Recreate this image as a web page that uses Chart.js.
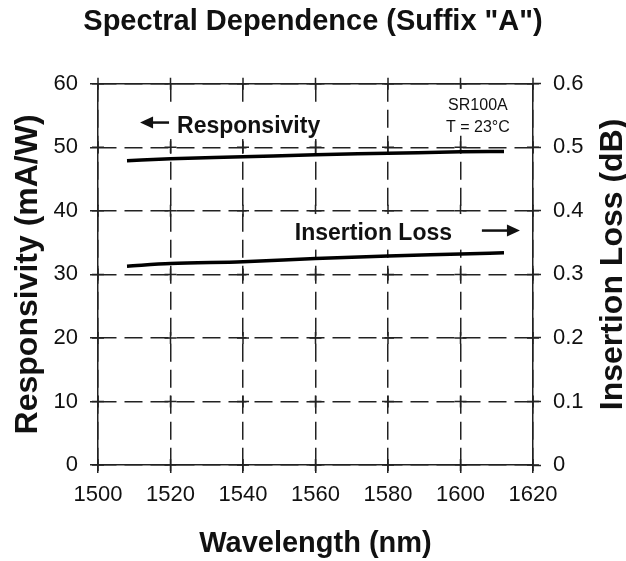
<!DOCTYPE html>
<html>
<head>
<meta charset="utf-8">
<script src="https://cdn.jsdelivr.net/npm/chart.js@4.4.1/dist/chart.umd.min.js"></script>
<style>
  body { margin: 0; background: #fff; }
  #wrap { width: 626px; height: 561px; }
</style>
</head>
<body>
<div id="wrap"><canvas id="specChart" width="626" height="561"></canvas></div>
<script>
// values
const wavelength = [1508, 1520, 1540, 1560, 1580, 1600, 1612];
const responsivity = [47.9, 48.2, 48.5, 48.85, 49.05, 49.3, 49.35];
const insertionLoss = [0.313, 0.317, 0.320, 0.325, 0.329, 0.332, 0.334];

const titleText = 'Spectral Dependence (Suffix "A")';
const xTitle = "Wavelength (nm)";
const yLeftTitle = "Responsivity (mA/W)";
const yRightTitle = "Insertion Loss (dB)";
const noteLines = ["SR100A", "T = 23°C"];

const FONT = "'Liberation Sans', Arial, sans-serif";
const INK = "#111";

function arrow(ctx, x1, x2, y) {
  // line from x1 to x2, head at x2
  const dir = x2 > x1 ? 1 : -1;
  ctx.beginPath();
  ctx.moveTo(x1, y);
  ctx.lineTo(x2 - dir * 10, y);
  ctx.lineWidth = 2.5;
  ctx.strokeStyle = INK;
  ctx.stroke();
  ctx.beginPath();
  ctx.moveTo(x2, y);
  ctx.lineTo(x2 - dir * 13, y - 6);
  ctx.lineTo(x2 - dir * 13, y + 6);
  ctx.closePath();
  ctx.fillStyle = INK;
  ctx.fill();
}

// white patch behind a label, corners in data units
function clearBox(ctx, X, Y, x0, x1, y0, y1) {
  ctx.fillStyle = "#fff";
  ctx.fillRect(X(x0), Y(y0), X(x1) - X(x0), Y(y1) - Y(y0));
}

const extras = {
  id: "extras",
  beforeDatasetsDraw(chart) {
    const { ctx, chartArea: a, scales } = chart;
    ctx.save();
    // top border
    ctx.strokeStyle = "#222";
    ctx.lineWidth = 1.5;
    ctx.beginPath();
    ctx.moveTo(a.left, a.top);
    ctx.lineTo(a.right, a.top);
    ctx.stroke();
    // little solid crosses where the grid lines meet
    scales.x.ticks.forEach(tx => {
      const px = scales.x.getPixelForValue(tx.value);
      scales.y.ticks.forEach(ty => {
        const py = scales.y.getPixelForValue(ty.value);
        ctx.beginPath();
        ctx.moveTo(px - 6, py); ctx.lineTo(px + 6, py);
        ctx.moveTo(px, py - 6); ctx.lineTo(px, py + 6);
        ctx.stroke();
      });
    });
    ctx.restore();
  },
  afterDraw(chart) {
    const { ctx, scales, chartArea: a } = chart;
    const X = v => scales.x.getPixelForValue(v);
    const Y = v => scales.y.getPixelForValue(v);
    ctx.save();

    clearBox(ctx, X, Y, 1511, 1561.8, 56.2, 51.3);
    clearBox(ctx, X, Y, 1553, 1617.8, 39.5, 33.9);
    clearBox(ctx, X, Y, 1594.3, 1615, 59.2, 52.0);

    ctx.fillStyle = INK;
    ctx.textBaseline = "alphabetic";
    ctx.font = "bold 23px " + FONT;
    ctx.textAlign = "left";
    ctx.fillText("Responsivity", X(1521.8), Y(52.3));
    arrow(ctx, X(1519.6), X(1511.6), Y(53.9));

    ctx.fillText("Insertion Loss", X(1554.3), Y(35.4));
    arrow(ctx, X(1605.9), X(1616.4), Y(36.9));

    ctx.font = "16px " + FONT;
    ctx.textAlign = "center";
    ctx.fillText(noteLines[0], X(1604.8), Y(55.9));
    ctx.fillText(noteLines[1], X(1604.8), Y(52.4));

    // right axis title reads upward, like the left one
    ctx.font = "bold 32px " + FONT;
    ctx.translate(622, (a.top + a.bottom) / 2 - 10);
    ctx.rotate(-Math.PI / 2);
    ctx.fillText(yRightTitle, 0, 0);
    ctx.restore();
  }
};

const tickFont = { family: FONT, size: 22 };
const axisTitleFont = { family: FONT, size: 29, weight: "bold" };
const sideTitleFont = { family: FONT, size: 32, weight: "bold", lineHeight: 1 };
const gridDash = [18, 8];

const ctx = document.querySelector("#specChart").getContext("2d");
new Chart(ctx, {
  type: "line",
  data: {
    datasets: [
      {
        label: "Responsivity",
        data: wavelength.map((w, i) => ({ x: w, y: responsivity[i] })),
        borderColor: "#000",
        borderWidth: 3.5,
        pointRadius: 0,
        cubicInterpolationMode: "monotone",
        yAxisID: "y"
      },
      {
        label: "Insertion Loss",
        data: wavelength.map((w, i) => ({ x: w, y: insertionLoss[i] })),
        borderColor: "#000",
        borderWidth: 3.5,
        pointRadius: 0,
        cubicInterpolationMode: "monotone",
        yAxisID: "y1"
      }
    ]
  },
  options: {
    responsive: false,
    animation: false,
    layout: { padding: 0 },
    plugins: {
      legend: { display: false },
      tooltip: { enabled: false },
      title: {
        display: true,
        text: titleText,
        color: INK,
        font: { family: FONT, size: 29, weight: "bold" },
        padding: { top: 5, bottom: 44 }
      }
    },
    scales: {
      x: {
        type: "linear",
        min: 1500,
        max: 1620,
        afterFit: s => { s.height = 96; },
        ticks: { stepSize: 20, color: INK, font: tickFont, padding: 9, maxRotation: 0, callback: v => String(v) },
        grid: { color: "#222", lineWidth: 1.5, tickLength: 8, tickColor: "#222", tickWidth: 1.5 },
        border: { display: true, color: "#222", width: 1.5, dash: gridDash },
        title: { display: true, text: xTitle, color: INK, font: axisTitleFont, padding: { top: 0, bottom: 0 } }
      },
      y: {
        position: "left",
        min: 0,
        max: 60,
        afterFit: s => { s.width = 98; },
        ticks: { stepSize: 10, color: INK, font: tickFont, padding: 12 },
        grid: { color: "#222", lineWidth: 1.5, tickLength: 8, tickColor: "#222", tickWidth: 1.5 },
        border: { display: true, color: "#222", width: 1.5, dash: gridDash },
        title: { display: true, text: yLeftTitle, color: INK, font: sideTitleFont, padding: { top: 12, bottom: 0 } }
      },
      y1: {
        position: "right",
        min: 0,
        max: 0.6,
        afterFit: s => { s.width = 93; },
        ticks: { stepSize: 0.1, color: INK, font: tickFont, padding: 12 },
        grid: { drawOnChartArea: false, tickLength: 8, tickColor: "#222", tickWidth: 1.5 },
        border: { display: true, color: "#222", width: 1.5 },
        title: { display: false }
      }
    }
  },
  plugins: [extras]
});
</script>
</body>
</html>
